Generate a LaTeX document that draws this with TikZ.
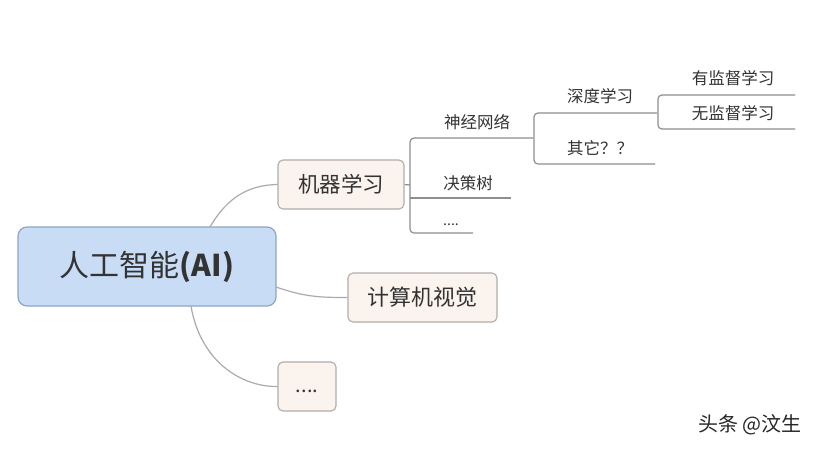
\documentclass[tikz,border=0pt]{standalone}
\usepackage{fontspec}
\setmainfont{Noto Sans CJK SC}
\begin{document}
\begin{tikzpicture}[x=1pt,y=-1pt,
  txt/.style={text=black!80, inner sep=0pt, font=\fontsize{16.5}{18}\selectfont},
  rootbox/.style={draw=rootline, fill=rootfill, line width=1.2pt, rounded corners=9pt, inner sep=0pt, text=black!80},
  childbox/.style={draw=boxline, fill=boxfill, line width=1.1pt, rounded corners=5pt, inner sep=0pt, text=black!80},
  link/.style={draw=linkgray, line width=1.2pt},
  bracket/.style={draw=brgray, line width=1.2pt, rounded corners=4pt}]
\definecolor{rootfill}{HTML}{C8DCF6}
\definecolor{rootline}{HTML}{8EA6C4}
\definecolor{boxfill}{HTML}{FBF4EE}
\definecolor{boxline}{HTML}{B0ADAA}
\definecolor{linkgray}{HTML}{ABABAB}
\definecolor{brgray}{HTML}{8E8E8E}
\useasboundingbox[fill=white] (0,0) rectangle (817,448);

\node[rootbox, minimum width=258pt, minimum height=79pt, font=\fontsize{30}{32}\selectfont] (root) at (147,266.5) {人工智能\textbf{(AI)}};
\node[childbox, minimum width=126pt, minimum height=49pt, font=\fontsize{21.5}{24}\selectfont] (ml) at (341,184.5) {机器学习};
\node[childbox, minimum width=149pt, minimum height=49pt, font=\fontsize{22}{24}\selectfont] (cv) at (422.5,297.5) {计算机视觉};
\node[childbox, minimum width=58pt, minimum height=49pt, font=\fontsize{20}{22}\selectfont] (dots) at (307,386.5) {\raisebox{-6pt}[0pt][0pt]{....}};

\coordinate (rtop) at (210,227);
\coordinate (rright) at (276,287);
\coordinate (rbot) at (191,306);
\draw[link] (rtop) .. controls (228,196) and (250,185) .. (ml.west);
\draw[link] (rright) .. controls (305,297) and (320,297.5) .. (cv.west);
\draw[link] (rbot) .. controls (200,360) and (240,387) .. (dots.west);

% bracket level 1
\coordinate (b1) at (410,185);
\coordinate (nnend) at (533,138);
\coordinate (dtend) at (511,198);
\coordinate (d1end) at (473,233);
\draw[bracket] (ml.east) -- (b1);
\draw[bracket] (nnend) -- (410,138) -- (410,233) -- (d1end);
\draw[bracket] (410,198) -- (dtend);
\node[txt] (nn) at (477,122) {神经网络};
\node[txt] (dt) at (468,183) {决策树};
\node[txt, font=\fontsize{14}{16}\selectfont] (d1) at (451,225) {....};

% bracket level 2
\coordinate (dlend) at (657,113);
\coordinate (otend) at (655,164);
\draw[bracket] (dlend) -- (534,113) -- (534,164) -- (otend);
\node[txt] (dl) at (600,96) {深度学习};
\node[txt] (ot) at (600,148) {其它？？};

% bracket level 3
\coordinate (svend) at (795,95);
\coordinate (usend) at (795,129);
\draw[bracket] (svend) -- (658,95) -- (658,129) -- (usend);
\node[txt] (sv) at (733,78) {有监督学习};
\node[txt] (us) at (733,113) {无监督学习};

\node[text=black!85, inner sep=0pt, font=\fontsize{20}{22}\selectfont] (wm) at (750,425) {头条 @汶生};
\end{tikzpicture}
\end{document}
